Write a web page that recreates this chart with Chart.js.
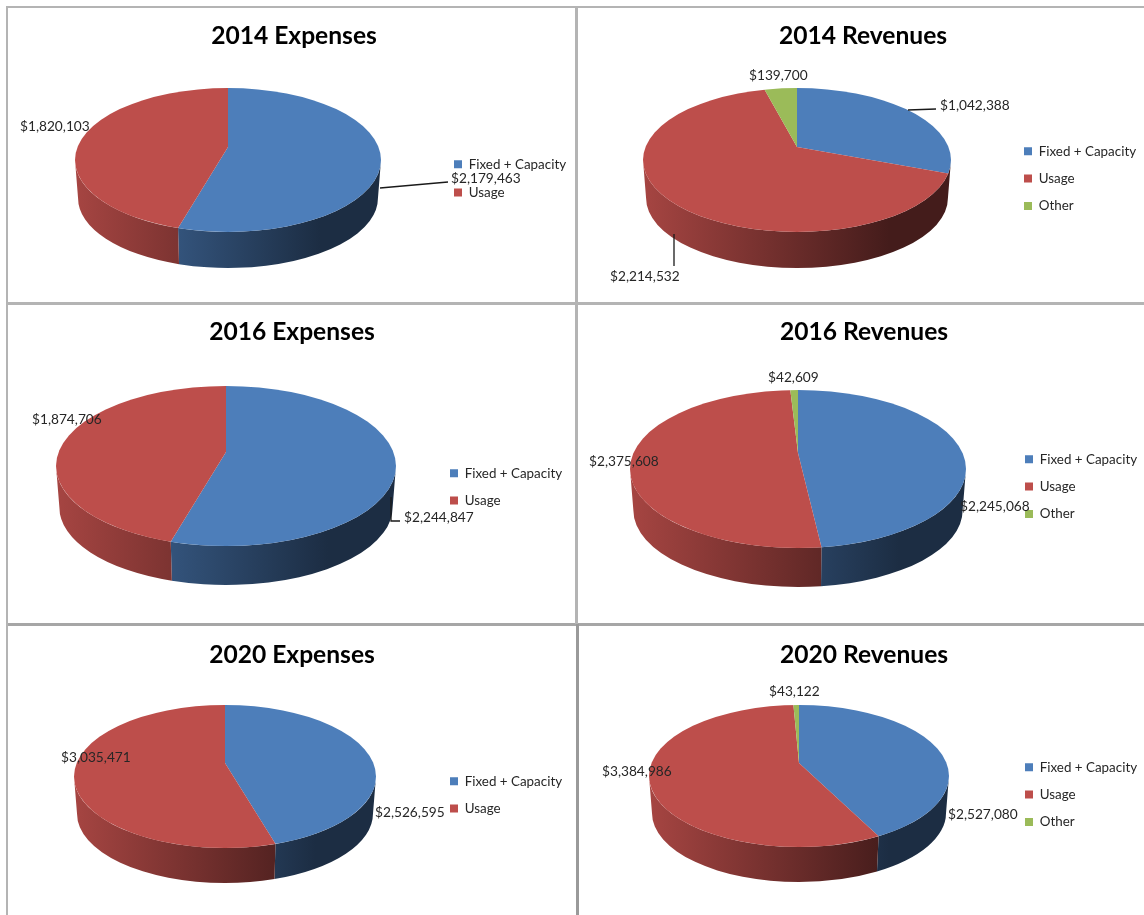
<!DOCTYPE html>
<html><head><meta charset="utf-8">
<script src="https://cdn.jsdelivr.net/npm/chart.js@4"></script>
<style>
html,body{margin:0;padding:0;background:#fff;width:1144px;height:915px;overflow:hidden}
#wrap{position:relative;width:1144px;height:915px;filter:blur(0.45px)}
canvas{position:absolute}
.g{position:absolute;background:#b4b4b4}
</style></head><body>
<div id="wrap">
<div class="g" style="left:6px;top:6px;width:1138px;height:2px"></div>
<div class="g" style="left:6px;top:302px;width:1138px;height:3px"></div>
<div class="g" style="left:6px;top:623px;width:1138px;height:3px;background:#a6a6a6"></div>
<div class="g" style="left:6px;top:6px;width:2px;height:909px"></div>
<div class="g" style="left:575px;top:6px;width:3px;height:618px"></div>
<div class="g" style="left:576px;top:624px;width:3px;height:291px;background:#9a9a9a"></div>
</div>
<script>
const twoCategories = ['Fixed + Capacity', 'Usage'];
const threeCategories = ['Fixed + Capacity', 'Usage', 'Other'];
const expenses2014 = [2179463, 1820103];
const revenues2014 = [1042388, 2214532, 139700];
const expenses2016 = [2244847, 1874706];
const revenues2016 = [2245068, 2375608, 42609];
const expenses2020 = [2526595, 3035471];
const revenues2020 = [2527080, 3384986, 43122];
const sliceColors = ['#4d7eba', '#bd4e4b', '#9bbb59'];
const wallRamp = [[0, 0.88], [0.8, 0.36], [1, 0.36]];

const panels = [
 {title:'2014 Expenses', labels:twoCategories, values:expenses2014, box:[0,0,576,303], tx:294, ty:35,
  cx:228, rx:153, top:88, bottom:232, apexY:147, wallBottom:268, legendX:455, legendY:164, legendGap:28,
  text:[[451,178],[20,126]], leaders:[[[380,188],[448,182]]]},
 {title:'2014 Revenues', labels:threeCategories, values:revenues2014, box:[576,0,568,303], tx:863, ty:35,
  cx:797, rx:154, top:88, bottom:232, apexY:147, wallBottom:268, legendX:1025, legendY:151, legendGap:27,
  text:[[940,105],[610,276],[749,75]], leaders:[[[908,110],[936,109]],[[674,234],[674,266]]]},
 {title:'2016 Expenses', labels:twoCategories, values:expenses2016, box:[0,303,576,321], tx:292, ty:331,
  cx:226, rx:170, top:386, bottom:546, apexY:452, wallBottom:585, legendX:451, legendY:473, legendGap:27,
  text:[[404,517],[32,419]], leaders:[[[391,497],[391,521],[400,521]]]},
 {title:'2016 Revenues', labels:threeCategories, values:revenues2016, box:[576,303,568,321], tx:864, ty:331,
  cx:798, rx:168, top:390, bottom:548, apexY:453, wallBottom:587, legendX:1026, legendY:459, legendGap:27,
  text:[[960,506],[589,461],[768,377]], leaders:[]},
 {title:'2020 Expenses', labels:twoCategories, values:expenses2020, box:[0,624,576,291], tx:292, ty:654,
  cx:225, rx:151, top:705, bottom:848, apexY:763, wallBottom:883, legendX:451, legendY:781, legendGap:27,
  text:[[375,812],[61,757]], leaders:[]},
 {title:'2020 Revenues', labels:threeCategories, values:revenues2020, box:[576,624,568,291], tx:864, ty:654,
  cx:799, rx:150, top:705, bottom:847, apexY:763, wallBottom:882, legendX:1026, legendY:767, legendGap:27,
  text:[[948,814],[602,771],[769,691]], leaders:[]}
];

function shade(hex, f){
  const n = parseInt(hex.slice(1),16);
  return `rgb(${Math.round((n>>16&255)*f)},${Math.round((n>>8&255)*f)},${Math.round((n&255)*f)})`;
}
function geom(p){
  const ox=p.box[0], oy=p.box[1];
  const ry=(p.bottom-p.top)/2, cy=(p.bottom+p.top)/2-oy, cx=p.cx-ox, ay=p.apexY-oy;
  const k=ry/p.rx, ry2=ry*0.97, rx2=p.rx*0.98, cy2=p.wallBottom-oy-ry2;
  return {ox,oy,ry,cy,cx,ay,k,ry2,rx2,cy2,rx:p.rx};
}
function rayParam(g, a){
  const dx=Math.cos(a), dy=g.k*Math.sin(a), e=(g.ay-g.cy);
  const A=dx*dx/(g.rx*g.rx)+dy*dy/(g.ry*g.ry), B=2*e*dy/(g.ry*g.ry), C=e*e/(g.ry*g.ry)-1;
  const s=(-B+Math.sqrt(B*B-4*A*C))/(2*A);
  let t=Math.atan2((e+s*dy)/g.ry,(s*dx)/g.rx);
  if(t<-Math.PI/2-1e-6) t+=2*Math.PI;
  return t;
}
const pie3d = {
  id:'pie3d',
  afterLayout(chart,args,o){
    const p=o.panel, g=geom(p), R=p.rx*1.3;
    Object.assign(chart.chartArea,{left:g.cx-R,right:g.cx+R,top:g.ay-R,bottom:g.ay+R,width:2*R,height:2*R});
    const lg=chart.legend, pad=lg.options.labels.padding, rowH=13;
    const w=lg.right-lg.left, h=lg.bottom-lg.top;
    lg.left=p.legendX-g.ox-pad-1; lg.right=lg.left+w;
    lg.top=p.legendY-g.oy-pad-rowH/2; lg.bottom=lg.top+h;
    const tb=chart.titleBlock;
    const tbH=tb.bottom-tb.top;
    tb.left=p.tx-g.ox-150; tb.right=p.tx-g.ox+150;
    tb.top=p.ty-g.oy-tbH/2+1; tb.bottom=tb.top+tbH;
  },
  beforeDatasetsDraw(chart,args,o){
    const p=o.panel, g=geom(p), ctx=chart.ctx, arcs=chart.getDatasetMeta(0).data;
    let carry=false;
    arcs.forEach((arc,i)=>{
      let lo=Math.max(rayParam(g,arc.startAngle),0);
      if(carry){ lo=0; carry=false; }
      let end=rayParam(g,arc.endAngle);
      if(i===arcs.length-1) end=1.5*Math.PI;
      const hi=Math.min(end,Math.PI);
      if(hi<=lo) return;
      if(hi-lo<0.25 && lo===0){ carry=true; return; }
      const grad=ctx.createLinearGradient(g.cx-g.rx,0,g.cx+g.rx,0);
      wallRamp.forEach(s=>grad.addColorStop(s[0],shade(sliceColors[i],s[1])));
      ctx.save();
      ctx.beginPath();
      ctx.ellipse(g.cx,g.cy,g.rx,g.ry,0,lo,hi);
      ctx.ellipse(g.cx,g.cy2,g.rx2,g.ry2,0,hi,lo,true);
      ctx.closePath();
      ctx.fillStyle=grad; ctx.fill();
      ctx.restore();
    });
    ctx.save();
    ctx.beginPath();
    ctx.ellipse(g.cx,g.cy,g.rx,g.ry,0,0,2*Math.PI);
    ctx.clip();
    ctx.translate(g.cx,g.ay); ctx.scale(1,g.k); ctx.translate(-g.cx,-g.ay);
  },
  afterDatasetsDraw(chart,args,o){
    const p=o.panel, g=geom(p), ctx=chart.ctx;
    ctx.restore();
    ctx.save();
    ctx.strokeStyle='#1a1a1a'; ctx.lineWidth=1.3;
    p.leaders.forEach(l=>{
      ctx.beginPath();
      l.forEach((q,i)=> i? ctx.lineTo(q[0]-g.ox,q[1]-g.oy):ctx.moveTo(q[0]-g.ox,q[1]-g.oy));
      ctx.stroke();
    });
    ctx.font='13.7px Lato'; ctx.fillStyle='#262626'; ctx.textAlign='left'; ctx.textBaseline='middle';
    p.values.forEach((v,i)=>{
      ctx.fillText('$'+v.toLocaleString('en-US'),p.text[i][0]-g.ox,p.text[i][1]-g.oy+0.5);
    });
    ctx.restore();
  }
};
panels.forEach(p=>{
  const c=document.createElement('canvas');
  c.width=p.box[2]; c.height=p.box[3];
  c.style.left=p.box[0]+'px'; c.style.top=p.box[1]+'px';
  document.getElementById('wrap').appendChild(c);
  new Chart(c,{
    type:'pie',
    data:{labels:p.labels,datasets:[{data:p.values,backgroundColor:sliceColors.slice(0,p.values.length),borderWidth:0,clip:false}]},
    options:{
      responsive:false,animation:false,devicePixelRatio:1,
      plugins:{
        title:{display:true,text:p.title,color:'#000',font:{family:'Lato',size:24.6,weight:'bold'},padding:0},
        legend:{display:true,position:'right',align:'start',
          labels:{boxWidth:8,boxHeight:8,padding:p.legendGap-13,color:'#262626',font:{family:'Lato',size:13.4}}},
        tooltip:{enabled:false},
        pie3d:{panel:p}
      }
    },
    plugins:[pie3d]
  });
});
</script>
</body></html>
